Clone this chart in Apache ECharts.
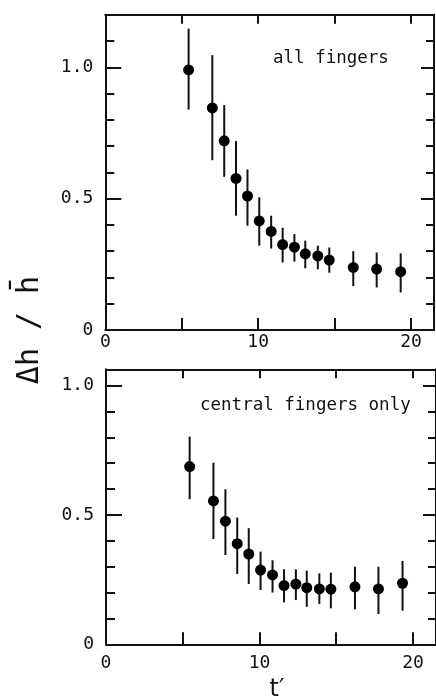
<!DOCTYPE html>
<html>
<head>
<meta charset="utf-8">
<script src="https://cdn.jsdelivr.net/npm/echarts@6/dist/echarts.min.js"></script>
<style>
  html, body { margin: 0; padding: 0; background: #fff; }
  #chart { width: 436px; height: 700px; }
</style>
</head>
<body>
<div id="chart"></div>
<script>
// Dimensionless time t' for each measurement (shared by both panels)
const tValues = [5.45, 7.0, 7.78, 8.55, 9.3, 10.07, 10.85, 11.6, 12.37, 13.08, 13.9, 14.65, 16.22, 17.75, 19.32];

// Relative finger-height spread, all fingers
const allMean = [0.99, 0.845, 0.72, 0.577, 0.51, 0.415, 0.375, 0.325, 0.315, 0.29, 0.282, 0.266, 0.238, 0.232, 0.222];
const allLow  = [0.839, 0.646, 0.583, 0.435, 0.397, 0.321, 0.31, 0.257, 0.26, 0.235, 0.231, 0.218, 0.167, 0.162, 0.143];
const allHigh = [1.147, 1.046, 0.856, 0.719, 0.611, 0.505, 0.435, 0.389, 0.365, 0.34, 0.321, 0.314, 0.3, 0.295, 0.292];

// Relative finger-height spread, central fingers only
const cenMean = [0.687, 0.554, 0.476, 0.389, 0.349, 0.287, 0.268, 0.227, 0.233, 0.219, 0.214, 0.213, 0.222, 0.214, 0.236];
const cenLow  = [0.561, 0.407, 0.345, 0.272, 0.233, 0.21, 0.2, 0.162, 0.171, 0.145, 0.156, 0.139, 0.135, 0.117, 0.13];
const cenHigh = [0.803, 0.702, 0.599, 0.49, 0.449, 0.358, 0.325, 0.29, 0.29, 0.285, 0.274, 0.277, 0.3, 0.3, 0.322];

const xTickLabels = ['0', '10', '20'];
const yTickLabels = ['0', '0.5', '1.0'];
const panelTitles = ['all fingers', 'central fingers only'];

const INK = '#111';
const FONT = '"DejaVu Sans Mono", "Liberation Mono", monospace';

const chart = echarts.init(document.getElementById('chart'), null, { renderer: 'canvas' });

function xLabel(v) {
  const s = String(Math.round(v));
  return (Math.abs(v - Math.round(v)) < 1e-6 && xTickLabels.includes(s)) ? s : '';
}
function yLabel(v) {
  const s = Math.abs(v) < 1e-9 ? '0' : v.toFixed(1);
  return (Math.abs(v * 2 - Math.round(v * 2)) < 1e-6 && yTickLabels.includes(s)) ? s : '';
}

function xAxes(gridIndex, labelMargin) {
  return [
    {
      gridIndex, type: 'value', position: 'bottom', min: 0, max: 21.5, interval: 5,
      axisLine: { show: true, onZero: false, lineStyle: { color: INK, width: 2 } },
      axisTick: { show: true, inside: true, length: 12, lineStyle: { color: INK, width: 2 } },
      axisLabel: { show: true, margin: labelMargin, color: INK, fontFamily: FONT, fontSize: 18,
        formatter: xLabel, showMinLabel: true, showMaxLabel: false, hideOverlap: false },
      splitLine: { show: false }
    },
    {
      gridIndex, type: 'value', position: 'top', min: 0, max: 21.5, interval: 5,
      axisLine: { show: true, onZero: false, lineStyle: { color: INK, width: 2 } },
      axisTick: { show: true, inside: true, length: 9, lineStyle: { color: INK, width: 2 } },
      axisLabel: { show: false },
      splitLine: { show: false }
    }
  ];
}

function yAxes(gridIndex, maxVal) {
  const base = { gridIndex, type: 'value', min: 0, max: maxVal, splitLine: { show: false } };
  return [
    Object.assign({}, base, {
      position: 'left', interval: 0.1,
      axisLine: { show: true, onZero: false, lineStyle: { color: INK, width: 2 } },
      axisTick: { show: true, inside: true, length: 9, lineStyle: { color: INK, width: 2 } },
      axisLabel: { show: false }
    }),
    Object.assign({}, base, {
      position: 'left', interval: 0.5,
      axisLine: { show: false, onZero: false },
      axisTick: { show: true, inside: true, length: 16, lineStyle: { color: INK, width: 2 } },
      axisLabel: { show: true, margin: 12, color: INK, fontFamily: FONT, fontSize: 18,
        formatter: yLabel, showMinLabel: true, showMaxLabel: false, hideOverlap: false }
    }),
    Object.assign({}, base, {
      position: 'right', interval: 0.1,
      axisLine: { show: true, onZero: false, lineStyle: { color: INK, width: 2 } },
      axisTick: { show: true, inside: true, length: 8, lineStyle: { color: INK, width: 2 } },
      axisLabel: { show: false }
    }),
    Object.assign({}, base, {
      position: 'right', interval: 0.5,
      axisLine: { show: false, onZero: false },
      axisTick: { show: true, inside: true, length: 13, lineStyle: { color: INK, width: 2 } },
      axisLabel: { show: false }
    })
  ];
}

function errorBars(axisIdx, yIdx, low, high) {
  return {
    type: 'custom',
    xAxisIndex: axisIdx,
    yAxisIndex: yIdx,
    silent: true,
    data: tValues.map((t, i) => [t, low[i], high[i]]),
    renderItem: function (params, api) {
      const p0 = api.coord([api.value(0), api.value(1)]);
      const p1 = api.coord([api.value(0), api.value(2)]);
      return {
        type: 'line',
        shape: { x1: p0[0], y1: p0[1], x2: p1[0], y2: p1[1] },
        style: { stroke: INK, lineWidth: 2 }
      };
    },
    z: 2
  };
}

function points(axisIdx, yIdx, mean) {
  return {
    type: 'scatter',
    xAxisIndex: axisIdx,
    yAxisIndex: yIdx,
    symbol: 'circle',
    symbolSize: 11,
    itemStyle: { color: '#000', opacity: 1 },
    data: tValues.map((t, i) => [t, mean[i]]),
    z: 3
  };
}

const option = {
  backgroundColor: '#fff',
  animation: false,
  grid: [
    { left: 105.3, top: 14.7, width: 328.7, height: 315.3 },
    { left: 106, top: 369.3, width: 331.5, height: 275 }
  ],
  xAxis: [].concat(xAxes(0, 3), xAxes(1, 10)),
  yAxis: [].concat(yAxes(0, 1.2), yAxes(1, 1.063)),
  series: [
    errorBars(0, 0, allLow, allHigh),
    points(0, 0, allMean),
    errorBars(2, 4, cenLow, cenHigh),
    points(2, 4, cenMean)
  ],
  graphic: [
    {
      type: 'text', left: 273, top: 49,
      style: { text: panelTitles[0], font: '17.5px ' + FONT, fill: INK }
    },
    {
      type: 'text', left: 200, top: 396,
      style: { text: panelTitles[1], font: '17.5px ' + FONT, fill: INK }
    },
    {
      type: 'text', x: 30, y: 330, rotation: Math.PI / 2,
      style: { text: 'Δh / h\u0304', font: '30px ' + FONT, fill: INK, align: 'center', verticalAlign: 'middle' }
    },
    {
      type: 'text', x: 277, y: 690,
      style: { text: 't\u2032', font: '24px "DejaVu Sans", sans-serif', fill: INK, align: 'center', verticalAlign: 'middle' }
    }
  ]
};

chart.setOption(option);
</script>
</body>
</html>
